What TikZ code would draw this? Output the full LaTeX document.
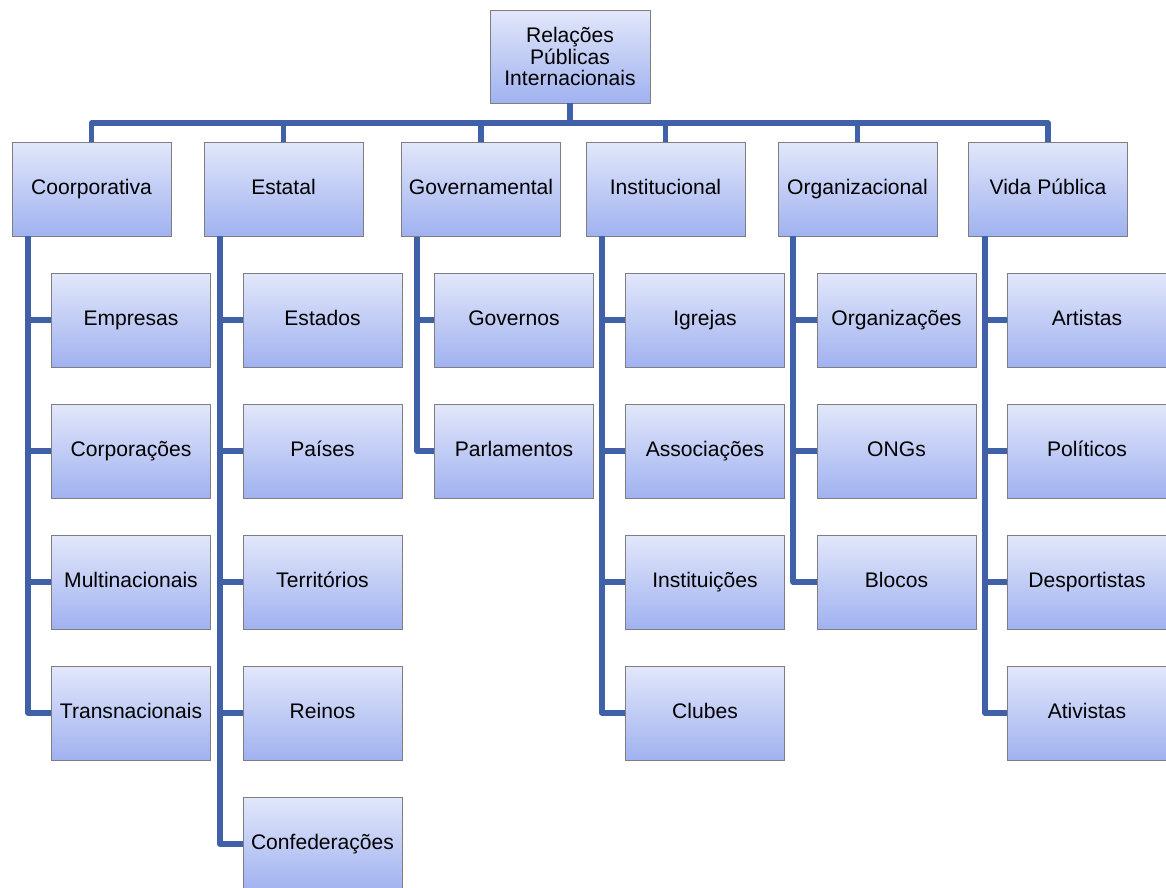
\documentclass[tikz,border=0pt]{standalone}
\usepackage{fontspec}
\setmainfont{Liberation Sans}
\usepackage{tikz}
\usetikzlibrary{positioning}
\definecolor{boxtop}{RGB}{226,231,250}
\definecolor{boxbottom}{RGB}{160,178,240}
\definecolor{boxline}{RGB}{125,125,130}
\definecolor{linkblue}{RGB}{64,96,168}
\tikzstyle{box} = [draw=boxline, line width=0.5pt, top color=boxtop, bottom color=boxbottom,
                   minimum width=3.18cm, minimum height=1.88cm, inner sep=1pt,
                   font=\fontsize{12pt}{12.2pt}\selectfont]
\tikzstyle{item} = [box, text height=1.6ex, text depth=0.5ex]
\tikzstyle{link} = [draw=linkblue, line width=2.9pt, line join=round]

\begin{document}
\begin{tikzpicture}[x=0.02cm, y=-0.02cm]
				\useasboundingbox (0, 0) rectangle (1166, 887);

				\node (Top) [box, minimum width=3.2cm, minimum height=1.86cm, align=center] at (570, 56.5) {Relações\\Públicas\\Internacionais};
				\coordinate (Bus) at (570, 123);
				\draw [link] (Top) -- (Bus);

				% categories
				\node (Coorp) [item] at (91.5, 189) {Coorporativa};
				\node (Estatal) [item] at (283.5, 189) {Estatal};
				\node (Gov) [item] at (481, 189) {Governamental};
				\node (Inst) [item] at (665.5, 189) {Institucional};
				\node (Org) [item] at (857.5, 189) {Organizacional};
				\node (Vida) [item] at (1048, 189) {Vida Pública};
				\draw [link] (Bus) -| (Coorp);
				\draw [link] (Bus) -| (Estatal);
				\draw [link] (Bus) -| (Gov);
				\draw [link] (Bus) -| (Inst);
				\draw [link] (Bus) -| (Org);
				\draw [link] (Bus) -| (Vida);

				% coorporativa
				\coordinate (CoorpDrop) at (28, 236);
				\node (Empresas) [item] at (131, 320) {Empresas};
				\node (Corporacoes) [item] at (131, 451) {Corporações};
				\node (Multi) [item] at (131, 582) {Multinacionais};
				\node (Trans) [item] at (131, 713) {Transnacionais};
				\draw [link] (CoorpDrop) |- (Empresas);
				\draw [link] (CoorpDrop) |- (Corporacoes);
				\draw [link] (CoorpDrop) |- (Multi);
				\draw [link] (CoorpDrop) |- (Trans);

				% estatal
				\coordinate (EstatalDrop) at (220, 236);
				\node (Estados) [item] at (322.5, 320) {Estados};
				\node (Paises) [item] at (322.5, 451) {Países};
				\node (Territorios) [item] at (322.5, 582) {Territórios};
				\node (Reinos) [item] at (322.5, 713) {Reinos};
				\node (Confed) [item] at (322.5, 844) {Confederações};
				\draw [link] (EstatalDrop) |- (Estados);
				\draw [link] (EstatalDrop) |- (Paises);
				\draw [link] (EstatalDrop) |- (Territorios);
				\draw [link] (EstatalDrop) |- (Reinos);
				\draw [link] (EstatalDrop) |- (Confed);

				% governamental
				\coordinate (GovDrop) at (417, 237);
				\node (Governos) [item] at (514, 320) {Governos};
				\node (Parlamentos) [item] at (514, 451) {Parlamentos};
				\draw [link] (GovDrop) |- (Governos);
				\draw [link] (GovDrop) |- (Parlamentos);

				% institucional
				\coordinate (InstDrop) at (602, 236);
				\node (Igrejas) [item] at (705, 320) {Igrejas};
				\node (Assoc) [item] at (705, 451) {Associações};
				\node (Instituicoes) [item] at (705, 582) {Instituições};
				\node (Clubes) [item] at (705, 713) {Clubes};
				\draw [link] (InstDrop) |- (Igrejas);
				\draw [link] (InstDrop) |- (Assoc);
				\draw [link] (InstDrop) |- (Instituicoes);
				\draw [link] (InstDrop) |- (Clubes);

				% organizacional
				\coordinate (OrgDrop) at (793, 236);
				\node (Organizacoes) [item] at (896.5, 320) {Organizações};
				\node (ONGs) [item] at (896.5, 451) {ONGs};
				\node (Blocos) [item] at (896.5, 582) {Blocos};
				\draw [link] (OrgDrop) |- (Organizacoes);
				\draw [link] (OrgDrop) |- (ONGs);
				\draw [link] (OrgDrop) |- (Blocos);

				% vida publica
				\coordinate (VidaDrop) at (985, 236);
				\node (Artistas) [item] at (1087, 320) {Artistas};
				\node (Politicos) [item] at (1087, 451) {Políticos};
				\node (Desportistas) [item] at (1087, 582) {Desportistas};
				\node (Ativistas) [item] at (1087, 713) {Ativistas};
				\draw [link] (VidaDrop) |- (Artistas);
				\draw [link] (VidaDrop) |- (Politicos);
				\draw [link] (VidaDrop) |- (Desportistas);
				\draw [link] (VidaDrop) |- (Ativistas);
\end{tikzpicture}
\end{document}
